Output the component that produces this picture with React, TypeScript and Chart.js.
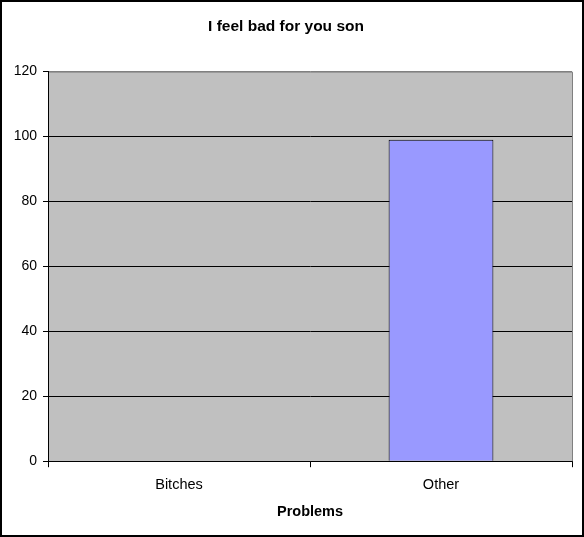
import React, { useEffect, useRef } from 'react';
import { Chart, registerables } from 'chart.js';

Chart.register(...registerables);

// data
const categories = ['Bitches', 'Other'];
const problemValues = [0, 99];
const yTicks = [0, 20, 40, 60, 80, 100, 120];

const FONT = '"Liberation Sans", Arial, sans-serif';

// gray plot area + outer frame, like the old Excel look
const excelFrame = {
  id: 'excelFrame',
  beforeDraw(chart: Chart) {
    const { ctx, chartArea: a, width, height } = chart;
    ctx.save();
    ctx.fillStyle = '#fff';
    ctx.fillRect(0, 0, width, height);
    ctx.fillStyle = '#C0C0C0';
    ctx.fillRect(a.left, a.top, a.right - a.left, a.bottom - a.top);
    ctx.restore();
  },
  afterDraw(chart: Chart) {
    const { ctx, chartArea: a, width, height } = chart;
    ctx.save();
    ctx.strokeStyle = '#808080';
    ctx.lineWidth = 1;
    ctx.beginPath();
    ctx.moveTo(a.left + 1, a.top + 0.5);
    ctx.lineTo(a.right + 0.5, a.top + 0.5);
    ctx.lineTo(a.right + 0.5, a.bottom);
    ctx.stroke();
    ctx.strokeStyle = '#000';
    ctx.lineWidth = 2;
    ctx.strokeRect(1, 1, width - 2, height - 2);
    ctx.restore();
  },
};

export default function App() {
  const canvasRef = useRef<HTMLCanvasElement>(null);

  useEffect(() => {
    document.body.style.margin = '0';
    if (!canvasRef.current) return;
    const chart = new Chart(canvasRef.current, {
      type: 'bar',
      data: {
        labels: categories,
        datasets: [{
          label: 'Problems',
          data: problemValues,
          backgroundColor: '#9999FF',
          borderColor: '#000',
          borderWidth: 1,
          barPercentage: 0.4,
          categoryPercentage: 1,
        }],
      },
      options: {
        animation: false,
        responsive: false,
        devicePixelRatio: 1,
        layout: { padding: { left: 0, right: 12, top: 0, bottom: 16 } },
        plugins: {
          legend: { display: false },
          tooltip: { enabled: false },
          title: {
            display: true,
            text: 'I feel bad for you son',
            color: '#000',
            font: { family: FONT, size: 15.5, weight: 'bold', lineHeight: 1.2 },
            padding: { top: 17, bottom: 36 },
          },
        },
        scales: {
          x: {
            grid: { offset: true, drawOnChartArea: false, tickLength: 6, color: '#000' },
            border: { color: '#000', width: 1 },
            ticks: { color: '#000', padding: 9, font: { family: FONT, size: 14.5 } },
            title: {
              display: true,
              text: 'Problems',
              color: '#000',
              font: { family: FONT, size: 14.5, weight: 'bold', lineHeight: 1.2 },
              padding: { top: 1, bottom: 0 },
            },
          },
          y: {
            min: 0,
            max: 120,
            afterFit: (s: any) => { s.width = 48; },
            afterBuildTicks: (s: any) => { s.ticks = yTicks.map(v => ({ value: v })); },
            grid: {
              color: (c: any) => (c.tick && c.tick.value === 120 ? '#808080' : '#000'),
              tickColor: '#000',
              tickLength: 5,
            },
            border: { color: '#000', width: 1 },
            ticks: { color: '#000', padding: 6, font: { family: FONT, size: 14 } },
          },
        },
      },
      plugins: [excelFrame],
    });
    return () => { chart.destroy(); };
  }, []);

  return (
    <div style={{ width: 584, height: 537 }}>
      <canvas ref={canvasRef} width={584} height={537} />
    </div>
  );
}
